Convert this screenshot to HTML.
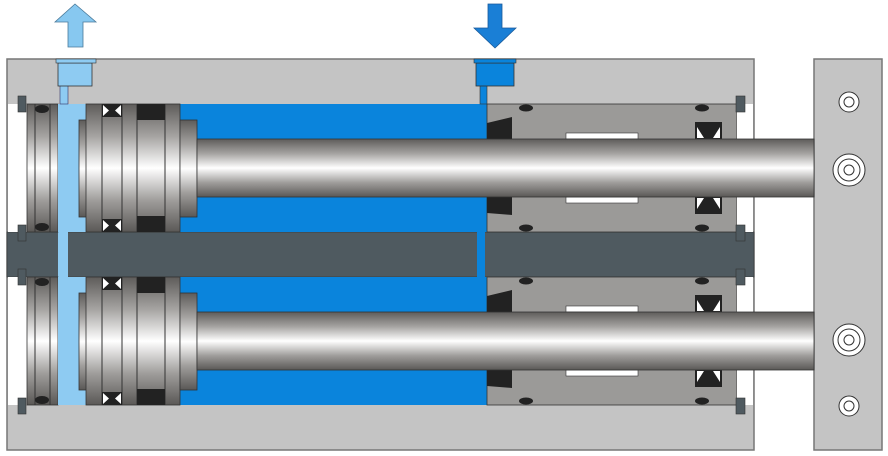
<!DOCTYPE html>
<html><head><meta charset="utf-8"><style>html,body{margin:0;padding:0;background:#fff}svg{display:block}</style></head>
<body>
<svg width="888" height="456" viewBox="0 0 888 456" xmlns="http://www.w3.org/2000/svg">
<defs>
<linearGradient id="cyl" x1="0" y1="0" x2="0" y2="1">
<stop offset="0" stop-color="#5e5c5a"/><stop offset="0.25" stop-color="#a5a3a1"/><stop offset="0.5" stop-color="#ffffff"/><stop offset="0.75" stop-color="#a09e9c"/><stop offset="1" stop-color="#5a5856"/>
</linearGradient>
<g id="unit">
<rect x="8" y="0" width="20" height="128" fill="#fff"/>
<rect x="18" y="-8" width="8" height="16" fill="#4f5a60" stroke="#333" stroke-width="0.6"/>
<rect x="18" y="121" width="8" height="16" fill="#4f5a60" stroke="#333" stroke-width="0.6"/>
<rect x="27" y="0" width="31" height="128" fill="url(#cyl)" stroke="#333" stroke-width="0.8"/>
<line x1="35" y1="0" x2="35" y2="128" stroke="#333"/><line x1="50" y1="0" x2="50" y2="128" stroke="#333"/>
<ellipse cx="42" cy="5" rx="7" ry="4" fill="#222"/><ellipse cx="42" cy="123" rx="7" ry="4" fill="#222"/>
<rect x="58" y="0" width="28" height="128" fill="#8ecbf2"/>
<rect x="180" y="0" width="307" height="128" fill="#0a84dc"/>
<rect x="79" y="16" width="8" height="97" fill="url(#cyl)" stroke="#333" stroke-width="0.8"/>
<rect x="86" y="0" width="94" height="128" fill="url(#cyl)" stroke="#333" stroke-width="0.8"/>
<line x1="102" y1="0" x2="102" y2="128" stroke="#333"/><line x1="122" y1="0" x2="122" y2="128" stroke="#333"/><line x1="137" y1="0" x2="137" y2="128" stroke="#333"/><line x1="165" y1="0" x2="165" y2="128" stroke="#333"/>
<rect x="102" y="0" width="20" height="13" fill="#222"/><path d="M103 1 L109 6.5 L103 12Z M121 1 L115 6.5 L121 12Z" fill="#fff"/>
<rect x="102" y="115" width="20" height="13" fill="#222"/><path d="M103 116 L109 121.5 L103 127Z M121 116 L115 121.5 L121 127Z" fill="#fff"/>
<rect x="137" y="0" width="28" height="16" fill="#222"/><rect x="137" y="112" width="28" height="16" fill="#222"/>
<rect x="180" y="16" width="17" height="97" fill="url(#cyl)" stroke="#333" stroke-width="0.8"/>
<rect x="487" y="0" width="250" height="128" fill="#9b9a98" stroke="#333" stroke-width="0.8"/>
<path d="M487 19 L512 13 L512 35 L487 35Z M487 93 L512 93 L512 111 L487 109Z" fill="#222"/>
<rect x="566" y="29" width="72" height="6" fill="#fff" stroke="#333" stroke-width="0.6"/>
<rect x="566" y="93" width="72" height="6" fill="#fff" stroke="#333" stroke-width="0.6"/>
<rect x="695" y="18" width="27" height="17" fill="#222"/><path d="M697 23 L704 34 L697 34Z M720 23 L713 34 L720 34Z" fill="#fff"/>
<rect x="695" y="93" width="27" height="17" fill="#222"/><path d="M697 105 L704 94 L697 94Z M720 105 L713 94 L720 94Z" fill="#fff"/>
<ellipse cx="526" cy="4" rx="7" ry="3.5" fill="#222"/><ellipse cx="702" cy="4" rx="7" ry="3.5" fill="#222"/>
<ellipse cx="526" cy="124" rx="7" ry="3.5" fill="#222"/><ellipse cx="702" cy="124" rx="7" ry="3.5" fill="#222"/>
<rect x="737" y="0" width="16" height="128" fill="#fff"/>
<rect x="736" y="-8" width="9" height="16" fill="#4f5a60" stroke="#333" stroke-width="0.6"/>
<rect x="736" y="121" width="9" height="16" fill="#4f5a60" stroke="#333" stroke-width="0.6"/>
<rect x="197" y="35" width="617" height="58" fill="url(#cyl)" stroke="#333" stroke-width="0.8"/>
</g>
</defs>
<rect x="7" y="59" width="747" height="391" fill="#c4c4c4" stroke="#777" stroke-width="1.5"/>
<rect x="814" y="59" width="68" height="391" fill="#c4c4c4" stroke="#777" stroke-width="1.5"/>
<rect x="7" y="232" width="747" height="45" fill="#4f5a60" stroke="#333" stroke-width="0.6"/>
<rect x="58" y="104" width="10" height="301" fill="#8ecbf2"/>
<rect x="477" y="232" width="8" height="45" fill="#0a84dc"/>
<use href="#unit" x="0" y="104"/>
<use href="#unit" x="0" y="277"/>
<rect x="60" y="84" width="8" height="20" fill="#8ecbf2" stroke="#336" stroke-width="0.6"/>
<rect x="58" y="63" width="34" height="23" fill="#8ecbf2" stroke="#333" stroke-width="0.8"/>
<rect x="56" y="59" width="40" height="4" fill="#8ecbf2" stroke="#333" stroke-width="0.6"/>
<rect x="480" y="84" width="7" height="20" fill="#0a84dc" stroke="#333" stroke-width="0.6"/>
<rect x="476" y="63" width="38" height="23" fill="#0a84dc" stroke="#333" stroke-width="0.8"/>
<rect x="474" y="59" width="42" height="4" fill="#0a84dc" stroke="#333" stroke-width="0.6"/>
<path d="M75 4 L96 22 L83 22 L83 47 L68 47 L68 22 L55 22 Z" fill="#87c8f0" stroke="#4a7a9a" stroke-width="0.8"/>
<path d="M488 4 L502 4 L502 28 L516 28 L495 48 L474 28 L488 28 Z" fill="#1a7fd6" stroke="#1a5a9a" stroke-width="0.8"/>
<g fill="#fff" stroke="#333" stroke-width="1">
<circle cx="849" cy="102" r="10"/><circle cx="849" cy="102" r="5"/>
<circle cx="849" cy="170" r="16"/><circle cx="849" cy="170" r="11"/><circle cx="849" cy="170" r="5"/>
<circle cx="849" cy="340" r="16"/><circle cx="849" cy="340" r="11"/><circle cx="849" cy="340" r="5"/>
<circle cx="849" cy="406" r="10"/><circle cx="849" cy="406" r="5"/>
</g>
</svg>
</body></html>
